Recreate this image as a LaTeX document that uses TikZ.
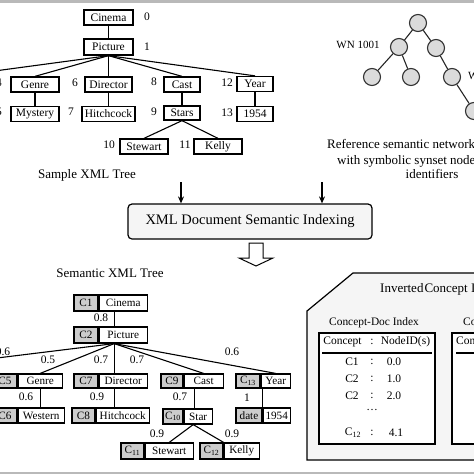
\documentclass[tikz,border=0pt]{standalone}
\usepackage{fontspec}
\setmainfont{Liberation Serif}
\usetikzlibrary{arrows.meta,calc}
\newcommand\myfs[1]{\fontsize{#1}{#1}\selectfont}
\begin{document}
\begin{tikzpicture}[x=1pt,y=-1pt,
  tbox/.style={draw, line width=1.3pt, fill=white, inner sep=0pt, minimum height=15pt, font=\myfs{11.5}},
  gcell/.style={draw, line width=1.2pt, fill=gray!40, inner sep=0pt, minimum height=15pt, font=\myfs{11.2}},
  wcell/.style={draw, line width=1.2pt, fill=white, inner sep=0pt, minimum height=15pt, font=\myfs{11.2}, anchor=west},
  lbl/.style={inner sep=0pt, font=\myfs{11.5}},
  wlbl/.style={inner sep=0pt, font=\myfs{11}},
  link/.style={line width=1.1pt},
  circ/.style={circle, draw=black!80, fill=gray!28, line width=1.1pt, minimum size=17pt, inner sep=0pt},
  txt/.style={inner sep=0pt, font=\myfs{13}},
  arr/.style={line width=1.1pt, -{Stealth[length=7pt, width=6pt]}}]
\useasboundingbox (0,0) rectangle (474,474);
\clip (0,0) rectangle (474,474);
\fill[white] (0,0) rectangle (474,474);
% gray bars
\fill[gray!55] (0,0) rectangle (474,2.5);
\fill[gray!55] (0,471.5) rectangle (474,474);

% ---------- Sample XML tree ----------
\node[tbox, minimum width=49pt] (cinema) at (108.5,17.5) {Cinema};
\node[tbox, minimum width=49pt, minimum height=16pt] (picture) at (108.5,47) {Picture};
\node[tbox, minimum width=48pt] (genre) at (35,84.5) {Genre};
\node[tbox, minimum width=47pt] (director) at (108.5,84.5) {Director};
\node[tbox, minimum width=36pt] (cast) at (182,84.5) {Cast};
\node[tbox, minimum width=36pt] (year) at (255,84) {Year};
\node[tbox, minimum width=48pt] (mystery) at (35,114) {Mystery};
\node[tbox, minimum width=53pt] (hitch) at (108.5,114) {Hitchcock};
\node[tbox, minimum width=36pt, minimum height=14pt] (stars) at (182,113) {Stars};
\node[tbox, minimum width=36pt] (y1954) at (255,114) {1954};
\node[tbox, minimum width=48pt] (stewart) at (144,146.5) {Stewart};
\node[tbox, minimum width=48pt] (kelly) at (218,146.5) {Kelly};
\coordinate (offleft) at (-50,77);

\node[lbl] (n0) at (147,17) {0};
\node[lbl] (n1) at (147,47) {1};
\node[lbl] (n4) at (-1,83) {4};
\node[lbl] (n5) at (-1,112) {5};
\node[lbl] (n6) at (75,83) {6};
\node[lbl] (n7) at (71,112) {7};
\node[lbl] (n8) at (154,82) {8};
\node[lbl] (n9) at (154,112) {9};
\node[lbl] (n12) at (227,83) {12};
\node[lbl] (n13) at (227,113) {13};
\node[lbl] (n10) at (109,145) {10};
\node[lbl] (n11) at (185,145) {11};

\begin{scope}[on background layer/.style={}]
\draw[link] (cinema) -- (picture);
\draw[link] (picture.south) -- (offleft);
\draw[link] (picture.south) -- (genre.north);
\draw[link] (picture.south) -- (director.north);
\draw[link] (picture.south) -- (cast.north);
\draw[link] (picture.south) -- (year.north);
\draw[link] (genre) -- (mystery);
\draw[link] (director) -- (hitch);
\draw[link] (cast) -- (stars);
\draw[link] (year) -- (y1954);
\draw[link] (stars.south) -- (stewart.north);
\draw[link] (stars.south) -- (kelly.north);
\end{scope}
% redraw boxes over lines
\foreach \n in {cinema,picture,genre,director,cast,year,mystery,hitch,stars,y1954,stewart,kelly}{}

\node[txt] (sampletitle) at (87,175) {Sample XML Tree};

% ---------- Reference semantic network ----------
\node[circ] (r0) at (418,23) {};
\node[circ] (r1) at (399,47) {};
\node[circ] (r2) at (436,48) {};
\node[circ] (r3) at (372,77) {};
\node[circ] (r4) at (411,77) {};
\node[circ] (r5) at (452,77) {};
\node[circ] (r6) at (474,111) {};
\draw[link, black!85] (r0) -- (r1);
\draw[link, black!85] (r0) -- (r2);
\draw[link, black!85] (r1) -- (r3);
\draw[link, black!85] (r1) -- (r4);
\draw[link, black!85] (r2) -- (r5);
\draw[link, black!85] (r5) -- (r6);
\node[wlbl] (wn1) at (358,45) {WN 1001};
\node[wlbl, anchor=west] (wn2) at (468,76) {WN};
\node[txt, anchor=west] (ref1) at (327,144) {Reference semantic network};
\node[txt, anchor=west] (ref2) at (337,161) {with symbolic synset node};
\node[txt] (ref3) at (432,174) {identifiers};

% ---------- Indexing box ----------
\node[draw, line width=1.2pt, rounded corners=4pt, fill=gray!8, minimum width=244pt, minimum height=35pt, inner sep=0pt, font=\myfs{14.5}] (xmlidx) at (250,221.5) {XML Document Semantic Indexing};
\coordinate (a1) at (181,182);
\coordinate (a2) at (322,182);
\draw[arr] (a1) -- (a1 |- xmlidx.north);
\draw[arr] (a2) -- (a2 |- xmlidx.north);
% hollow arrow
\draw[line width=1pt, fill=white] (249,243) -- (263,243) -- (263,258) -- (273,258) -- (256,266) -- (239,258) -- (249,258) -- cycle;

\node[txt] (semtitle) at (110,273) {Semantic XML Tree};

% ---------- Semantic XML tree ----------
\node[gcell, minimum width=24pt, minimum height=16pt] (c1g) at (86,303) {C1};
\node[wcell, minimum width=48pt, minimum height=16pt] (c1w) at (c1g.east) {Cinema};
\node[gcell, minimum width=24pt, minimum height=16pt] (c2g) at (86,335) {C2};
\node[wcell, minimum width=48pt, minimum height=16pt] (c2w) at (c2g.east) {Picture};
\node[gcell, minimum width=24pt, minimum height=14pt] (c5g) at (5,381) {C5};
\node[wcell, minimum width=44pt, minimum height=14pt] (c5w) at (c5g.east) {Genre};
\node[gcell, minimum width=24pt, minimum height=14pt] (c7g) at (86,381) {C7};
\node[wcell, minimum width=48pt, minimum height=14pt] (c7w) at (c7g.east) {Director};
\node[gcell, minimum width=22pt, minimum height=14pt] (c9g) at (172,381) {C9};
\node[wcell, minimum width=39pt, minimum height=14pt] (c9w) at (c9g.east) {Cast};
\node[gcell, minimum width=24pt, minimum height=14pt] (c13g) at (248,381) {C\textsubscript{13}};
\node[wcell, minimum width=29pt, minimum height=14pt] (c13w) at (c13g.east) {Year};
\node[gcell, minimum width=24pt] (c6g) at (5,415.5) {C6};
\node[wcell, minimum width=46pt] (c6w) at (c6g.east) {Western};
\node[gcell, minimum width=23pt] (c8g) at (83.5,415.5) {C8};
\node[wcell, minimum width=53pt] (c8w) at (c8g.east) {Hitchcock};
\node[gcell, minimum width=20pt] (c10g) at (173,416.5) {C\textsubscript{10}};
\node[wcell, minimum width=28pt] (c10w) at (c10g.east) {Star};
\node[gcell, minimum width=26pt] (dateg) at (249,415.5) {date};
\node[wcell, minimum width=27pt] (datew) at (dateg.east) {1954};
\node[gcell, minimum width=23pt, minimum height=16pt] (c11g) at (132.5,451) {C\textsubscript{11}};
\node[wcell, minimum width=48pt, minimum height=16pt] (c11w) at (c11g.east) {Stewart};
\node[gcell, minimum width=23pt, minimum height=16pt] (c12g) at (211.5,451) {C\textsubscript{12}};
\node[wcell, minimum width=35pt, minimum height=16pt] (c12w) at (c12g.east) {Kelly};
\coordinate (soffleft) at (-60,365);

\coordinate (c2b) at ([xshift=-9pt]c2w.south);
\draw[link] ([xshift=-9pt]c1w.south) -- ([xshift=-9pt]c2w.north);
\draw[link] (c2b) -- (soffleft);
\draw[link] (c2b) -- (c5w.north);
\draw[link] (c2b) -- (c2b |- c7w.north);
\draw[link] (c2b) -- (c9w.north);
\draw[link] (c2b) -- (c13w.north);
\draw[link] (c5w.south) -- (c5w.south |- c6w.north);
\draw[link] ([xshift=-9pt]c7w.south) -- ([xshift=-9pt]c7w.south |- c8w.north);
\draw[link] ([xshift=-9.5pt]c9w.south) -- ([xshift=-9.5pt]c9w.south |- c10w.north);
\draw[link] ([xshift=-5pt]c10w.south) -- (c11w.north);
\draw[link] ([xshift=-5pt]c10w.south) -- (c12g.north east);
\draw[link] ([xshift=2pt]c13g.south east) -- (dateg.north east);

\node[lbl] (w08) at (101,318) {0.8};
\node[lbl] (w06a) at (3,352) {0.6};
\node[lbl] (w05) at (48,360) {0.5};
\node[lbl] (w07a) at (101,360) {0.7};
\node[lbl] (w07b) at (137,360) {0.7};
\node[lbl] (w06b) at (232,352) {0.6};
\node[lbl] (w06c) at (26,397) {0.6};
\node[lbl] (w09a) at (97,397) {0.9};
\node[lbl] (w07c) at (180,397) {0.7};
\node[lbl] (w1) at (247,398) {1};
\node[lbl] (w09b) at (157,434) {0.9};
\node[lbl] (w09c) at (232,434) {0.9};

% ---------- Inverted concept index ----------
\draw[line width=1.2pt, fill=gray!8] (353,273) -- (480,273) -- (480,460) -- (307,460) -- (307,311) -- cycle;
\node[inner sep=0pt, font=\myfs{13}, anchor=west] (invtitle) at (380,289) {Inverted\kern1pt Concept Index};
\node[inner sep=0pt, font=\myfs{11.4}] (cdtitle) at (374,323) {Concept-Doc Index};
\node[inner sep=0pt, font=\myfs{11.4}, anchor=west] (cctitle) at (463,323) {Concept-Concept Index};
\node[draw, line width=1.4pt, fill=white, minimum width=116pt, minimum height=111pt, inner sep=0pt] (t1) at (377,388.5) {};
\node[draw, line width=1.4pt, fill=white, minimum width=108pt, minimum height=111pt, inner sep=0pt] (t2) at (506,388.5) {};
\draw[line width=1.4pt] (322,353) -- (432,353);
\draw[line width=1.4pt] (456,353) -- (500,353);
\begin{scope}[every node/.style={inner sep=0pt, font=\myfs{11.5}}]
\node (h1) at (342.5,342) {Concept};
\node (h2) at (372,342) {:};
\node (h3) at (405.5,342) {NodeID(s)};
\node[anchor=west] (h4) at (456,342) {Concept};
\node (r1a) at (352,362) {C1};
\node (r1b) at (372,362) {:};
\node (r1c) at (394,362) {0.0};
\node (r2a) at (352,379) {C2};
\node (r2b) at (372,379) {:};
\node (r2c) at (394,379) {1.0};
\node (r3a) at (352,396) {C2};
\node (r3b) at (372,396) {:};
\node (r3c) at (394,396) {2.0};
\node (r4b) at (372,410) {\dots};
\node (r5a) at (353,433) {C\textsubscript{12}};
\node (r5b) at (372,433) {:};
\node (r5c) at (396,433) {4.1};
\end{scope}
\end{tikzpicture}
\end{document}
